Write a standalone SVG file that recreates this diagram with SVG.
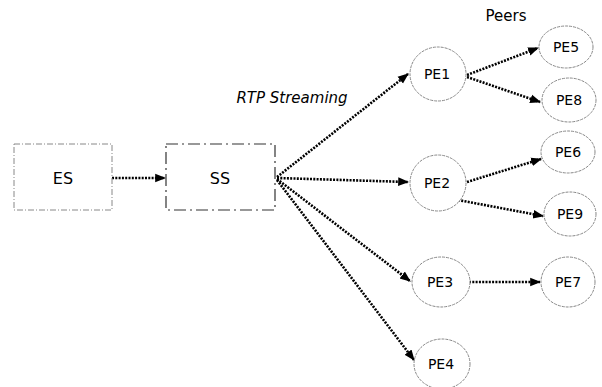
<svg xmlns="http://www.w3.org/2000/svg" width="602" height="387" viewBox="0 0 602 387">
  <defs>
    <marker id="arrow" viewBox="0 0 10 10" refX="9" refY="5" markerWidth="4.2" markerHeight="4.2" orient="auto" markerUnits="strokeWidth">
      <path d="M0,1 L10,5 L0,9 Z" fill="#000"/>
    </marker>
    <style>
      .box { fill: #fff; stroke: #888; stroke-width: 1; stroke-dasharray: 6 2 1 2; }
      .box2 { fill: #fff; stroke: #333; stroke-width: 1.2; stroke-dasharray: 12 4 2 4; }
      .peer { fill: #fff; stroke: #888; stroke-width: 1; stroke-dasharray: 3 1; }
      .lbl { font-family: "DejaVu Sans", Verdana, sans-serif; fill: #000; text-anchor: middle; }
      .node-lbl { font-size: 14px; }
      .box-lbl { font-size: 16px; }
      .link { fill: none; stroke: #000; stroke-width: 2.6; stroke-dasharray: 2 1.3; marker-end: url(#arrow); }
    </style>
  </defs>
  <rect width="602" height="387" fill="#fff"/>

  <text class="lbl" x="506" y="21" font-size="15">Peers</text>
  <text class="lbl" x="292" y="103" font-size="15" font-style="italic">RTP Streaming</text>

  <g id="connectors">
    <line class="link" x1="112" y1="178" x2="165" y2="178"/>
    <line class="link" x1="277" y1="177" x2="408" y2="74"/>
    <line class="link" x1="277" y1="178" x2="408" y2="182"/>
    <line class="link" x1="277" y1="179" x2="410" y2="281"/>
    <line class="link" x1="277" y1="180" x2="414" y2="360"/>
    <line class="link" x1="467" y1="75" x2="538" y2="48"/>
    <line class="link" x1="467" y1="77" x2="540" y2="102"/>
    <line class="link" x1="467" y1="182" x2="541" y2="159"/>
    <line class="link" x1="458" y1="200" x2="543" y2="216"/>
    <line class="link" x1="469" y1="282" x2="540" y2="282"/>
  </g>

  <g id="ES">
    <rect class="box" x="14" y="144" width="98" height="66"/>
    <text class="lbl box-lbl" x="63" y="184">ES</text>
  </g>
  <g id="SS">
    <rect class="box2" x="166" y="144" width="109" height="66"/>
    <text class="lbl box-lbl" x="220" y="184">SS</text>
  </g>

  <g id="PE1">
    <ellipse class="peer" cx="438" cy="74" rx="28" ry="27"/>
    <text class="lbl node-lbl" x="437" y="79">PE1</text>
  </g>
  <g id="PE2">
    <ellipse class="peer" cx="438" cy="183" rx="28" ry="28"/>
    <text class="lbl node-lbl" x="437" y="188">PE2</text>
  </g>
  <g id="PE3">
    <ellipse class="peer" cx="441" cy="282" rx="29" ry="25"/>
    <text class="lbl node-lbl" x="440" y="287">PE3</text>
  </g>
  <g id="PE4">
    <ellipse class="peer" cx="442" cy="364" rx="28" ry="25"/>
    <text class="lbl node-lbl" x="441" y="369">PE4</text>
  </g>
  <g id="PE5">
    <ellipse class="peer" cx="566" cy="47" rx="27" ry="21"/>
    <text class="lbl node-lbl" x="566" y="52">PE5</text>
  </g>
  <g id="PE8">
    <ellipse class="peer" cx="569" cy="100" rx="27" ry="22"/>
    <text class="lbl node-lbl" x="569" y="105">PE8</text>
  </g>
  <g id="PE6">
    <ellipse class="peer" cx="568" cy="152" rx="27" ry="21"/>
    <text class="lbl node-lbl" x="568" y="157">PE6</text>
  </g>
  <g id="PE9">
    <ellipse class="peer" cx="570" cy="214" rx="26" ry="22"/>
    <text class="lbl node-lbl" x="570" y="219">PE9</text>
  </g>
  <g id="PE7">
    <ellipse class="peer" cx="568" cy="282" rx="27" ry="25"/>
    <text class="lbl node-lbl" x="568" y="287">PE7</text>
  </g>
</svg>
